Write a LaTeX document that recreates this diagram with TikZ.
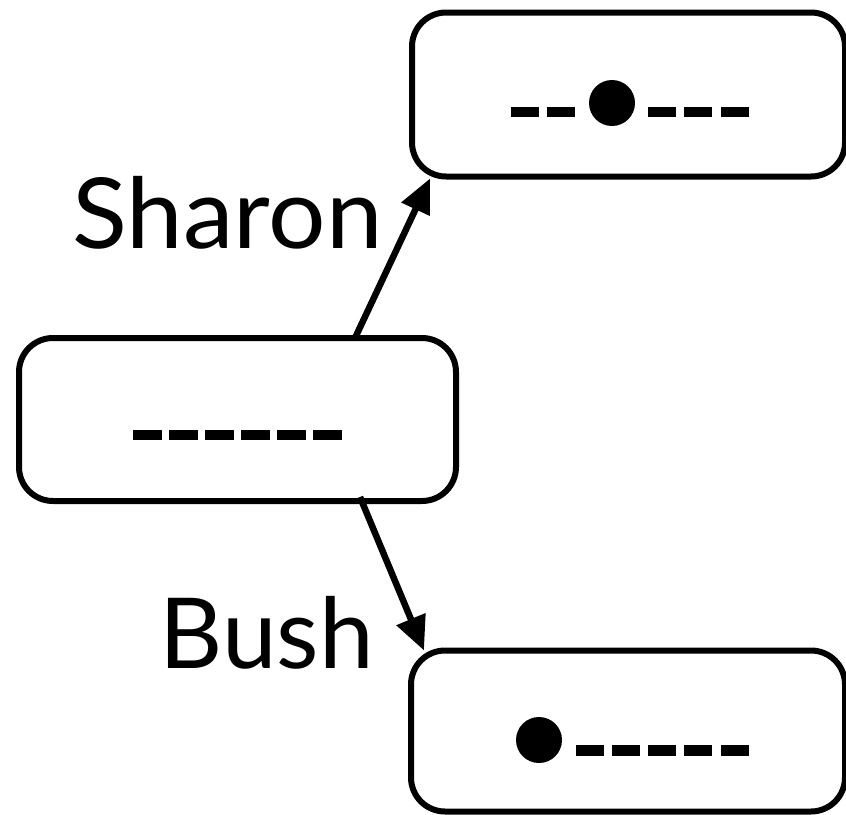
\documentclass[tikz,border=0pt]{standalone}
\usepackage{fontspec}
\setmainfont{Lato}
\usetikzlibrary{arrows.meta}
\begin{document}
\begin{tikzpicture}[x=1pt,y=-1pt,
  seqbox/.style={draw,line width=6pt,rounded corners=34pt,inner sep=0pt},
  edge/.style={line width=6.5pt,-{Triangle[length=34pt,width=30pt]}},
  lbl/.style={inner sep=0pt,font=\fontsize{98}{98}\selectfont},
  gap/.style={fill=black}]
\useasboundingbox (0,0) rectangle (846,814);
% sequence boxes
\node[seqbox,minimum width=433pt,minimum height=164pt] (top) at (628.5,94.5) {};
\node[seqbox,minimum width=437pt,minimum height=163pt] (mid) at (237.5,419.5) {};
\node[seqbox,minimum width=434pt,minimum height=161pt] (bot) at (628,731) {};
% alignment marks: gaps and residues
\foreach \x in {511,547,648,684,721} \fill[gap] (\x,107) rectangle ++(28,10);
\fill[gap] (612,103) circle (23);
\foreach \x in {133,169,205,241,277,313} \fill[gap] (\x,430) rectangle ++(29,10);
\fill[gap] (539,740) circle (23);
\foreach \x in {576,612,648,684,721} \fill[gap] (\x,745) rectangle ++(28,11);
% branches
\draw[edge] ([xshift=117.5pt,yshift=-3pt]mid.north) -- ([xshift=21pt,yshift=1pt]top.south west);
\draw[edge] ([xshift=122.5pt,yshift=7pt]mid.south) -- ([xshift=16pt,yshift=-3pt]bot.north west);
% labels
\node[lbl,anchor=base east,xscale=1.035] (sharon) at (383,248) {Sharon};
\node[lbl,anchor=base east] (bush) at (374,668) {Bush};
\end{tikzpicture}
\end{document}
